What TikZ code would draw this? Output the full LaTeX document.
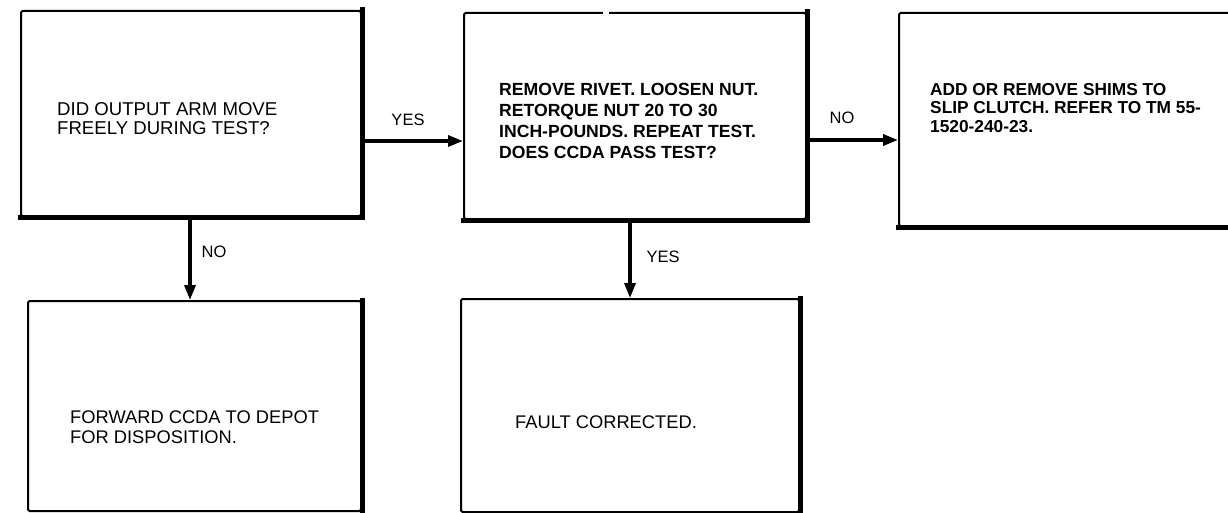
\documentclass[tikz,border=0pt]{standalone}
\usepackage{fontspec}
\setmainfont{Liberation Sans}
\usetikzlibrary{arrows.meta}
\begin{document}
\begin{tikzpicture}[x=1pt,y=-1pt,
  box/.style={draw,line width=2pt,rectangle,rounded corners=1.5pt,inner sep=0pt,anchor=north west},
  thick edge/.style={line width=5pt,line cap=rect},
  txt/.style={anchor=west,align=left,inner sep=0pt,font=\fontsize{18.6}{19}\selectfont},
  btxt/.style={txt,font=\fontsize{17.6}{21}\selectfont\bfseries},
  lbl/.style={inner sep=0pt,font=\fontsize{16.5}{18}\selectfont},
  arr/.style={line width=3.4pt,-{Triangle[length=15pt,width=11pt]}}]
\useasboundingbox (0,0) rectangle (1228,513);
\begin{scope}
\clip (0,0) rectangle (1228,513);
% boxes
\node[box,minimum width=340pt,minimum height=205pt] (b1) at (20,10) {};
\node[box,minimum width=342pt,minimum height=206pt] (b2) at (463,12) {};
\node[box,minimum width=345pt,minimum height=213pt] (b3) at (898,12) {};
\node[box,minimum width=333pt,minimum height=210pt] (b4) at (27,300) {};
\node[box,minimum width=338pt,minimum height=213pt] (b5) at (460,298) {};
% heavy edges
\draw[thick edge] (b1.north east) -- (b1.south east) -- (b1.south west);
\draw[thick edge] (b2.north east) -- (b2.south east) -- (b2.south west);
\draw[thick edge] (b3.south west) -- (b3.south east);
\draw[thick edge] (b4.north east) -- (b4.south east);
\draw[thick edge] (b5.north east) -- (b5.south east);
% small gap in top of box 2
\fill[white] (603,9) rectangle (609,15);
\end{scope}
% texts
\node[txt] (t1) at (57,119) {DID OUTPUT ARM MOVE\\FREELY DURING TEST?};
\node[btxt] (t2) at (499,121) {REMOVE RIVET. LOOSEN NUT.\\RETORQUE NUT 20 TO 30\\INCH-POUNDS. REPEAT TEST.\\DOES CCDA PASS TEST?};
\node[btxt,font=\fontsize{17.3}{18.5}\selectfont\bfseries] (t3) at (930,108) {ADD OR REMOVE SHIMS TO\\SLIP CLUTCH. REFER TO TM 55-\\1520-240-23.};
\node[txt,font=\fontsize{18.3}{20}\selectfont] (t4) at (70,427) {FORWARD CCDA TO DEPOT\\FOR DISPOSITION.};
\node[txt,font=\fontsize{18.3}{20}\selectfont] (t5) at (515,422) {FAULT CORRECTED.};
% connectors
\coordinate (a1) at (b1.east |- 0,141);
\coordinate (a2) at (b2.east |- 0,140);
\draw[arr] (a1) -- (b2.west |- a1);
\draw[arr] (a2) -- (b3.west |- a2);
\draw[arr] (b1.south -| 190,0) -- (b4.north -| 190,0);
\draw[arr] (b2.south -| 630,0) -- (b5.north -| 630,0);
% labels
\node[lbl] (l1) at (408,120) {YES};
\node[lbl] (l2) at (842,118) {NO};
\node[lbl] (l3) at (214,252) {NO};
\node[lbl] (l4) at (663,257) {YES};
\end{tikzpicture}
\end{document}
